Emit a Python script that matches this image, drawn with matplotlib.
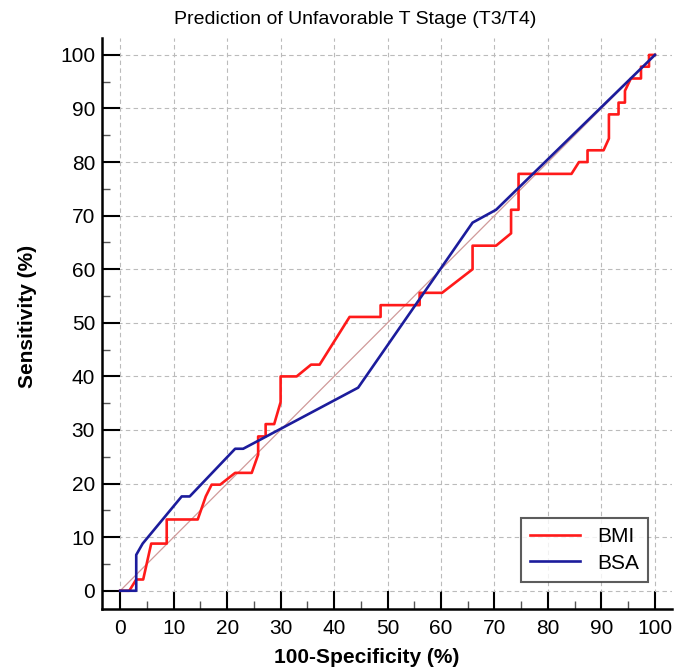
import numpy as np
import matplotlib
matplotlib.use("Agg")
from matplotlib import pyplot as plt

plt.rcParams['font.family'] = ['Liberation Sans', 'DejaVu Sans']

# ROC曲線のデータ
bmi_x = [0, 1.7, 3, 4.3, 5.8, 8.7, 8.7, 14.5, 16, 17.1, 18.7, 21.5, 24.6, 25.8, 25.8,
         27.2, 27.2, 28.8, 30, 30, 33, 35.7, 37.3, 42.9, 48.7, 48.7, 56, 56, 60.2,
         65.9, 65.9, 70.3, 73.1, 73.1, 74.5, 74.5, 84.4, 85.8, 87.4, 87.4, 90.4, 91.4,
         91.4, 93.2, 93.2, 94.4, 94.4, 95.5, 97.4, 97.4, 98.9, 98.9, 100]
bmi_y = [0, 0, 2.1, 2.1, 8.8, 8.8, 13.3, 13.3, 17.6, 19.8, 19.8, 22, 22, 25.4, 28.8,
         28.8, 31.1, 31.1, 35.2, 40, 40, 42.2, 42.2, 51.1, 51.1, 53.3, 53.3, 55.6, 55.6,
         60, 64.4, 64.4, 66.7, 71.1, 71.1, 77.8, 77.8, 80, 80, 82.2, 82.2, 84.4,
         88.9, 88.9, 91.1, 91.1, 93.3, 95.6, 95.6, 97.8, 97.8, 100, 100]

bsa_x = [0, 3, 3, 4.2, 11.5, 13, 21.5, 23, 44.5, 65.9, 70.3, 100]
bsa_y = [0, 0, 6.7, 8.8, 17.6, 17.6, 26.5, 26.5, 37.9, 68.7, 71.1, 100]

ref_x = [0, 100]
ref_y = [0, 100]

fig = plt.figure(figsize=(6.81, 6.72), dpi=100)
ax = fig.add_axes([0.1498, 0.0938, 0.837, 0.85])

# 対角線（参照線）
ax.plot(ref_x, ref_y, color='#d09a9a', lw=0.9, zorder=2)
ax.plot(bmi_x, bmi_y, color='#ff1a1a', lw=1.9, label='BMI', zorder=3)
ax.plot(bsa_x, bsa_y, color='#1c1c9c', lw=1.9, label='BSA', zorder=4)

ax.set_xlim(-3.4, 103.2)
ax.set_ylim(-3.4, 103.2)

ax.set_xticks(np.arange(0, 101, 10))
ax.set_yticks(np.arange(0, 101, 10))
ax.set_xticks(np.arange(5, 100, 10), minor=True)
ax.set_yticks(np.arange(5, 100, 10), minor=True)

ax.grid(True, which='major', color='#bbbbbb', linestyle=(0, (4, 3)), lw=0.8)
ax.set_axisbelow(True)

for s in ['top', 'right']:
    ax.spines[s].set_visible(False)
for s in ['left', 'bottom']:
    ax.spines[s].set_linewidth(1.8)

ax.tick_params(which='major', direction='in', length=13, width=1.5, labelsize=15, pad=5)
ax.tick_params(which='minor', direction='in', length=6, width=1.0, color='#555555')
ax.tick_params(axis='x', which='major', pad=7)

ax.set_xlabel('100-Specificity (%)', fontsize=15, fontweight='bold')
ax.set_ylabel('Sensitivity (%)', fontsize=15, fontweight='bold')
ax.xaxis.set_label_coords(0.465, -0.068)
ax.yaxis.set_label_coords(-0.114, 0.513)

ax.set_title('Prediction of Unfavorable T Stage (T3/T4)', fontsize=14, x=0.444, y=1.01)

leg = ax.legend(loc='lower right', bbox_to_anchor=(0.958, 0.047), borderaxespad=0,
                fontsize=15, frameon=True, fancybox=False, handlelength=2.4,
                borderpad=0.45, labelspacing=0.35, handletextpad=0.8)
leg.get_frame().set_edgecolor('#333333')
leg.get_frame().set_linewidth(1.5)

fig.savefig('out.png', dpi=100)
plt.close()
